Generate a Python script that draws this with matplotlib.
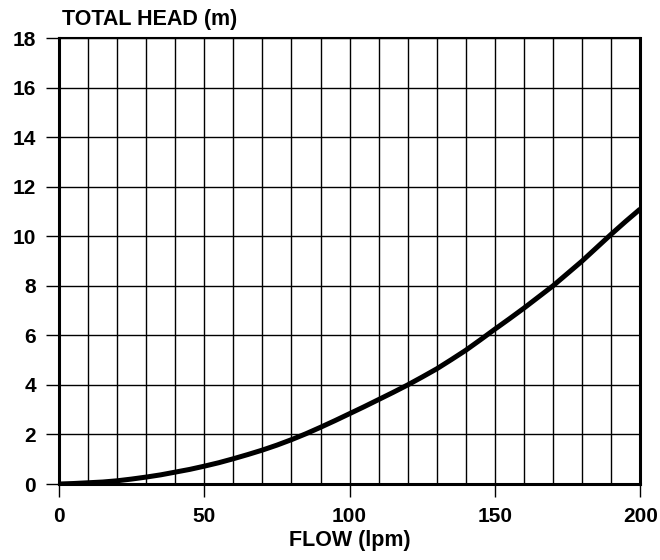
import numpy as np
import matplotlib.pyplot as plt

plt.rcParams['font.family'] = ['Liberation Sans', 'DejaVu Sans']
plt.rcParams['font.weight'] = 'bold'

# flow (lpm) vs total head (m)
flow = [0, 5, 10, 15, 20, 25, 30, 35, 40, 45, 50, 55, 60, 65, 70, 75, 80,
        85, 90, 95, 100, 105, 110, 115, 120, 125, 130, 135, 140, 145, 150,
        155, 160, 165, 170, 175, 180, 185, 190, 195, 200]
head = [0.0, 0.02, 0.05, 0.08, 0.13, 0.2, 0.28, 0.37, 0.48, 0.59, 0.72,
        0.86, 1.02, 1.19, 1.37, 1.57, 1.79, 2.03, 2.29, 2.56, 2.84,
        3.12, 3.41, 3.7, 4.0, 4.32, 4.65, 5.02, 5.4, 5.82, 6.25,
        6.67, 7.1, 7.55, 8.0, 8.5, 9.0, 9.54, 10.08, 10.6, 11.1]

xticks = [0, 50, 100, 150, 200]
yticks = [0, 2, 4, 6, 8, 10, 12, 14, 16, 18]

fig = plt.figure(figsize=(6.6, 5.6), dpi=100)
ax = fig.add_axes([0.0894, 0.1357, 0.8806, 0.7963])

ax.plot(flow, head, color='black', lw=3.6, solid_capstyle='butt',
        solid_joinstyle='round', zorder=3)

ax.set_xlim(0, 200)
ax.set_ylim(0, 18)
ax.set_xticks(xticks)
ax.set_yticks(yticks)
# vertical grid every 10 lpm
for gx in np.arange(10, 200, 10):
    ax.axvline(gx, color='black', lw=1.0, zorder=1)
ax.grid(which='major', axis='y', color='black', lw=1.0)
ax.tick_params(which='major', direction='out', length=9.5, width=1.0,
               labelsize=15, pad=7)
for s in ax.spines.values():
    s.set_linewidth(2.2)
ax.spines['top'].set_linewidth(1.5)

ax.set_xlabel('FLOW (lpm)', fontsize=15.5, fontweight='bold', labelpad=3)
fig.text(0.094, 0.966, 'TOTAL HEAD (m)', fontsize=15.5, fontweight='bold',
         ha='left', va='center')

fig.savefig('out.png', dpi=100)
